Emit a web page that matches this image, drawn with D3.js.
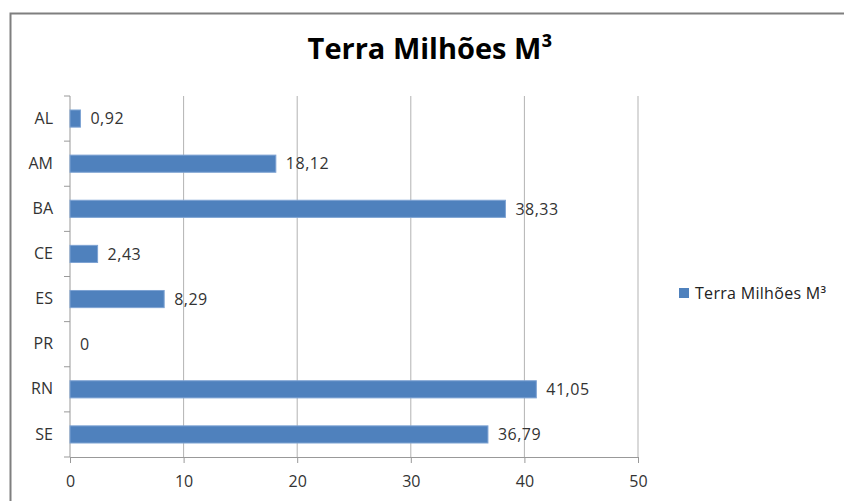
<!DOCTYPE html>
<html>
<head>
<meta charset="utf-8">
<script src="https://cdn.jsdelivr.net/npm/d3@7"></script>
<style>
  body { margin: 0; background: #fff; }
  svg { display: block; font-family: 'Open Sans', 'Noto Sans', sans-serif; }
</style>
</head>
<body>
<div id="chart"></div>
<script>
const categories = ['AL', 'AM', 'BA', 'CE', 'ES', 'PR', 'RN', 'SE'];
const values = [0.92, 18.12, 38.33, 2.43, 8.29, 0, 41.05, 36.79];
const xTicks = [0, 10, 20, 30, 40, 50];
const seriesName = 'Terra Milhões M³';

const width = 844;
const height = 501;
const margin = {top: 96, left: 70, bottom: 44, right: 206};

const data = categories.map((c, i) => ({name: c, value: values[i]}));

const x = d3.scaleLinear()
    .domain([0, 50])
    .range([margin.left, width - margin.right]);

const y = d3.scaleBand()
    .domain(categories)
    .range([margin.top, height - margin.bottom])
    .paddingInner(0.62)
    .paddingOuter(0.31);

const svg = d3.select('#chart').append('svg')
    .attr('width', width)
    .attr('height', height);

// chart area border
svg.append('rect')
    .attr('x', 10.5).attr('y', 13.5)
    .attr('width', 900).attr('height', 600)
    .attr('fill', 'none')
    .attr('stroke', '#7f7f7f')
    .attr('stroke-width', 2);

// title
svg.append('text')
    .attr('x', 430).attr('y', 59)
    .attr('text-anchor', 'middle')
    .attr('font-size', 29)
    .attr('font-weight', 'bold')
    .attr('fill', '#000')
    .text('Terra Milhões M³');

// grid
svg.append('g')
    .selectAll('line').data(xTicks.slice(1)).enter().append('line')
    .attr('x1', d => x(d)).attr('x2', d => x(d))
    .attr('y1', margin.top).attr('y2', height - margin.bottom)
    .attr('stroke', '#b3b3b3')
    .attr('stroke-width', 1);

const xAxis = g => g
    .attr('transform', `translate(0, ${height - margin.bottom})`)
    .call(d3.axisBottom(x).tickValues(xTicks).tickSize(6).tickSizeOuter(0).tickPadding(13))
    .call(g => g.selectAll('.domain, line').attr('stroke', '#999'))
    .call(g => g.selectAll('text').attr('font-size', 16).attr('fill', '#333').attr('font-family', 'Open Sans'));

const yTickPos = categories.map(c => y(c) - y.step() * y.paddingInner() / 2);
yTickPos.push(height - margin.bottom);

const yAxis = g => g
    .attr('transform', `translate(${margin.left}, 0)`)
    .call(d3.axisLeft(y).tickSize(0).tickPadding(17))
    .call(g => g.select('.domain').attr('stroke', '#999').attr('d', `M0,${margin.top}V${height - margin.bottom}`))
    .call(g => g.selectAll('text').attr('font-size', 16).attr('fill', '#333').attr('font-family', 'Open Sans'))
    .call(g => g.append('g').selectAll('line').data(yTickPos).enter().append('line')
        .attr('x1', -6).attr('x2', 0)
        .attr('y1', d => d).attr('y2', d => d)
        .attr('stroke', '#999'));

svg.append('g').call(xAxis);
svg.append('g').call(yAxis);

// bars
svg.append('g')
    .selectAll('rect').data(data).enter().append('rect')
    .attr('x', x(0))
    .attr('y', d => y(d.name))
    .attr('width', d => x(d.value) - x(0))
    .attr('height', y.bandwidth())
    .attr('fill', '#4f81bd')
    .attr('stroke', '#7ea3d3')
    .attr('stroke-width', d => d.value > 0 ? 1 : 0);

// value labels
svg.append('g')
    .selectAll('text').data(data).enter().append('text')
    .attr('x', d => x(d.value) + 10)
    .attr('y', d => y(d.name) + y.bandwidth() / 2)
    .attr('dy', '0.36em')
    .attr('font-size', 16)
    .attr('letter-spacing', 0.5)
    .attr('fill', '#333')
    .text(d => d3.format('.2f')(d.value).replace('.', ',').replace(/^0,00$/, '0'));

// legend
const legend = svg.append('g').attr('transform', 'translate(679, 293)');
legend.append('rect')
    .attr('x', 0).attr('y', -5)
    .attr('width', 10).attr('height', 10)
    .attr('fill', '#4f81bd');
legend.append('text')
    .attr('x', 16).attr('y', 0)
    .attr('dy', '0.36em')
    .attr('font-size', 16)
    .attr('letter-spacing', 0.3)
    .attr('fill', '#222')
    .text(seriesName);
</script>
</body>
</html>
